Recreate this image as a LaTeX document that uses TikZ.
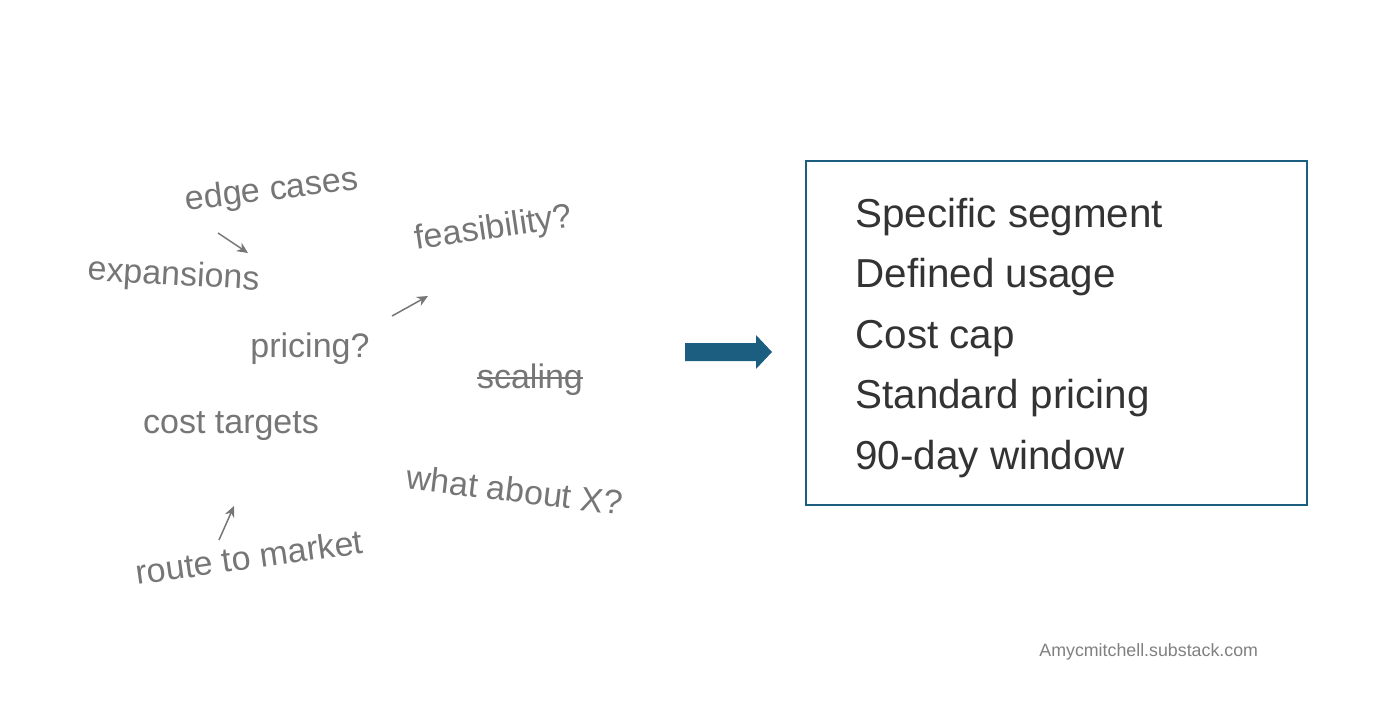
\documentclass[tikz,border=0pt]{standalone}
\usepackage{fontspec}
\setmainfont{Liberation Sans}
\usepackage{xcolor}
\usepackage{tikz}
\usetikzlibrary{arrows.meta}

\definecolor{teal}{RGB}{27,94,127}
\definecolor{ideagray}{RGB}{118,118,118}
\definecolor{goaltext}{RGB}{51,51,51}
\definecolor{mark}{RGB}{128,128,128}

\begin{document}
\begin{tikzpicture}[x=0.5pt,y=-0.5pt,
  idea/.style={text=ideagray,font=\fontsize{17}{20}\selectfont,inner sep=0pt,anchor=base},
  goal/.style={text=goaltext,font=\fontsize{20.2}{24}\selectfont,inner sep=0pt,anchor=base west},
  nudge/.style={draw=ideagray,line width=0.75pt,-{Stealth[length=5.5pt,width=5pt]}}]
  \useasboundingbox (0,0) rectangle (1373,719);
  % loose ideas
  \node[idea,rotate=7] (edge) at (273,200) {edge cases};
  \node[idea,rotate=-3.4] (expand) at (173,285) {expansions};
  \node[idea,rotate=8.4] (feas) at (495,238) {feasibility?};
  \node[idea] (price) at (310,357) {pricing?};
  \node[idea] (scal) at (530,388) {scaling};
  \draw[ideagray,line width=0.75pt] ([yshift=5pt]scal.base west) -- ([yshift=5pt]scal.base east);
  \node[idea] (cost) at (231,433) {cost targets};
  \node[idea,rotate=-7] (what) at (513,502) {what about X?};
  \node[idea,rotate=8] (route) at (251,569) {route to market};
  \coordinate (a1) at (218,233); \coordinate (b1) at (248,253);
  \coordinate (a2) at (392,316); \coordinate (b2) at (428,296);
  \coordinate (a3) at (219,540); \coordinate (b3) at (234,506);
  \foreach \i in {1,2,3} \draw[nudge] (a\i) -- (b\i);
  % arrow
  \fill[teal] (685,343) -- (756,343) -- (756,335) -- (772,352) -- (756,369) -- (756,361) -- (685,361) -- cycle;
  % decided scope
  \draw[teal,line width=1pt] (806,161) rectangle (1307,505);
  \foreach \t [count=\i] in {Specific segment,Defined usage,Cost cap,Standard pricing,90-day window}
    \node[goal] (g\i) at (855,227+60.5*\i-60.5) {\t};
  \node[text=mark,font=\fontsize{8.9}{11}\selectfont,inner sep=0pt,anchor=base west] (src) at (1039,656) {Amycmitchell.substack.com};
\end{tikzpicture}
\end{document}
